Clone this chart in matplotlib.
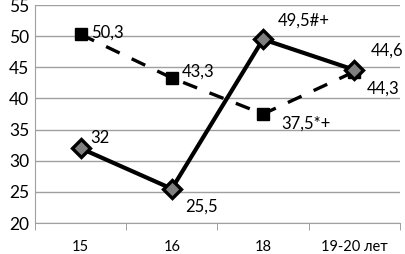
import matplotlib.pyplot as plt
import numpy as np

categories = ["15", "16", "18", "19-20 лет"]
series_a = [32, 25.5, 49.5, 44.6]
series_b = [50.3, 43.3, 37.5, 44.3]
labels_a = ["32", "25,5", "49,5#+", "44,6"]
labels_b = ["50,3", "43,3", "37,5*+", "44,3"]

plt.rcParams["font.family"] = ["Lato", "DejaVu Sans"]

fig = plt.figure(figsize=(4.06, 2.54), dpi=100)
ax = fig.add_axes([0.086, 0.122, 0.899, 0.858])

x = np.arange(len(categories))
ax.plot(x, series_b, color="black", linewidth=2.4, linestyle=(0, (4.5, 4)),
        marker="s", markersize=9, markerfacecolor="black", markeredgecolor="black", zorder=3)
ax.plot(x, series_a, color="black", linewidth=3, marker="D", markersize=9,
        markerfacecolor="#808080", markeredgecolor="black", markeredgewidth=2.4, zorder=4)

offs_a = [(10, 10), (13, -18), (15, 19), (16, 19)]
offs_b = [(11, 2), (10, 6), (18, -10), (12, -17)]
for xi, v, t, o in zip(x, series_a, labels_a, offs_a):
    ax.annotate(t, (xi, v), xytext=o, textcoords="offset pixels",
                ha="left", va="center", fontsize=12)
for xi, v, t, o in zip(x, series_b, labels_b, offs_b):
    ax.annotate(t, (xi, v), xytext=o, textcoords="offset pixels",
                ha="left", va="center", fontsize=12)

ax.set_xlim(-0.5, len(categories) - 0.5)
ax.set_ylim(20, 55)
ax.set_yticks(range(20, 56, 5))
ax.set_xticks(x)
ax.set_xticklabels(categories)
ax.set_xticks(np.arange(-0.5, len(categories), 1), minor=True)
ax.tick_params(axis="x", which="major", length=0, pad=12, labelsize=10.5)
ax.tick_params(axis="x", which="minor", length=5, color="#909090", direction="out")
ax.tick_params(axis="y", length=0, pad=4, labelsize=12.5)
ax.grid(axis="y", color="#a0a0a0", linewidth=1)
ax.set_axisbelow(True)
for s in ["top", "right"]:
    ax.spines[s].set_visible(False)
ax.spines["left"].set_color("#a0a0a0")
ax.spines["bottom"].set_color("#a0a0a0")

fig.savefig("out.png", dpi=100)
